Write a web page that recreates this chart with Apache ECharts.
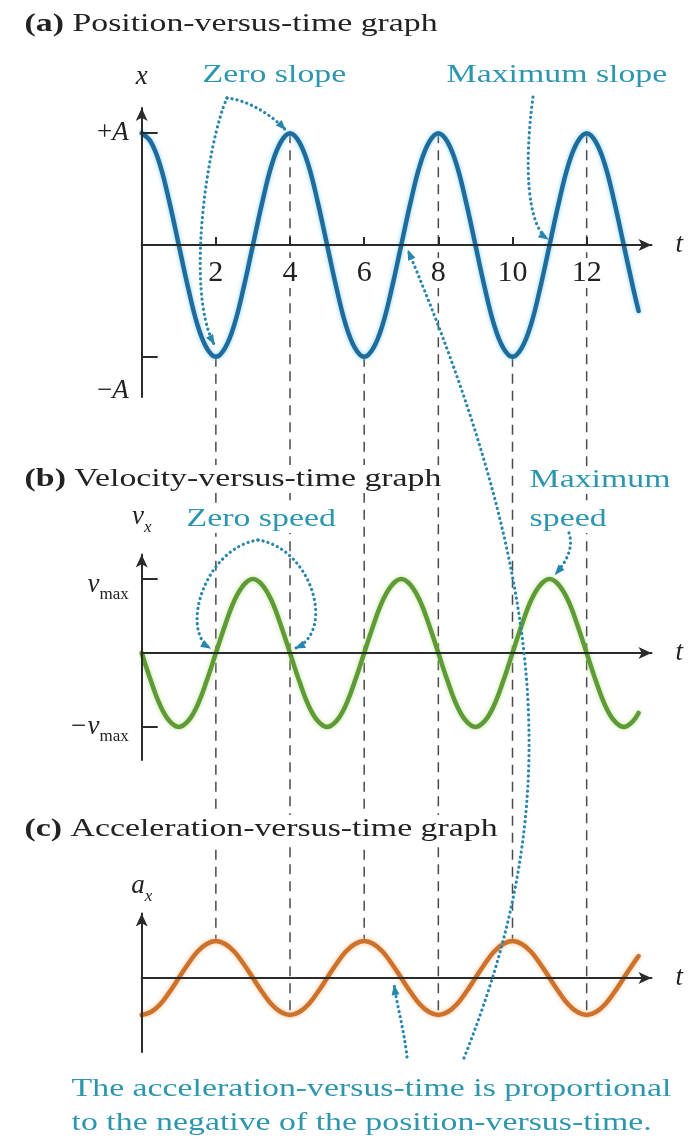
<!DOCTYPE html>
<html>
<head>
<meta charset="utf-8">
<script src="https://cdn.jsdelivr.net/npm/echarts@6/dist/echarts.min.js"></script>
<style>
  html, body { margin: 0; padding: 0; background: #fff; }
  #chart { width: 696px; height: 1139px; }
</style>
</head>
<body>
<div id="chart"></div>
<script>
// Simple harmonic motion sampled every quarter time unit: position, velocity, acceleration
const times = [0, 0.25, 0.5, 0.75, 1, 1.25, 1.5, 1.75, 2, 2.25, 2.5, 2.75, 3, 3.25, 3.5, 3.75,
  4, 4.25, 4.5, 4.75, 5, 5.25, 5.5, 5.75, 6, 6.25, 6.5, 6.75, 7, 7.25, 7.5, 7.75,
  8, 8.25, 8.5, 8.75, 9, 9.25, 9.5, 9.75, 10, 10.25, 10.5, 10.75, 11, 11.25, 11.5, 11.75,
  12, 12.25, 12.5, 12.75, 13, 13.25, 13.4];
const position = [1, 0.92, 0.71, 0.38, 0, -0.38, -0.71, -0.92, -1, -0.92, -0.71, -0.38, 0, 0.38, 0.71, 0.92,
  1, 0.92, 0.71, 0.38, 0, -0.38, -0.71, -0.92, -1, -0.92, -0.71, -0.38, 0, 0.38, 0.71, 0.92,
  1, 0.92, 0.71, 0.38, 0, -0.38, -0.71, -0.92, -1, -0.92, -0.71, -0.38, 0, 0.38, 0.71, 0.92,
  1, 0.92, 0.71, 0.38, 0, -0.38, -0.59];
const velocity = [0, -0.38, -0.71, -0.92, -1, -0.92, -0.71, -0.38, 0, 0.38, 0.71, 0.92, 1, 0.92, 0.71, 0.38,
  0, -0.38, -0.71, -0.92, -1, -0.92, -0.71, -0.38, 0, 0.38, 0.71, 0.92, 1, 0.92, 0.71, 0.38,
  0, -0.38, -0.71, -0.92, -1, -0.92, -0.71, -0.38, 0, 0.38, 0.71, 0.92, 1, 0.92, 0.71, 0.38,
  0, -0.38, -0.71, -0.92, -1, -0.92, -0.81];
const acceleration = [-1, -0.92, -0.71, -0.38, 0, 0.38, 0.71, 0.92, 1, 0.92, 0.71, 0.38, 0, -0.38, -0.71, -0.92,
  -1, -0.92, -0.71, -0.38, 0, 0.38, 0.71, 0.92, 1, 0.92, 0.71, 0.38, 0, -0.38, -0.71, -0.92,
  -1, -0.92, -0.71, -0.38, 0, 0.38, 0.71, 0.92, 1, 0.92, 0.71, 0.38, 0, -0.38, -0.71, -0.92,
  -1, -0.92, -0.71, -0.38, 0, 0.38, 0.59];

// Tick marks and labels
const timeTicks = [2, 4, 6, 8, 10, 12];
const positionTicks = [1, -1];
const positionTickLabels = ['+A', '−A'];
const velocityTicks = [1, -1];
const velocityTickLabels = ['v max', '−v max'];

// Guide lines dropped from the x(t) extremes down to a(t)
const guideTimes = [2, 4, 6, 8, 10, 12];

// ---------- layout ----------
const SERIF = '"Liberation Serif", "Times New Roman", serif';
const INK = '#222';
const AXIS_INK = '#2b2b2b';
const TEAL = '#2d96af';
const DOT = '#2885ad';
const STRETCH = 1.3;

const AXIS_LEFT = 141.7;
const PX_PER_T = 37.08;
const AXIS_END = 651.5;
const T_MAX = (AXIS_END - AXIS_LEFT) / PX_PER_T;

// zero: pixel row of the t axis, unit: pixels per amplitude, top/bottom: ends of the vertical axis line
const panels = [
  { zero: 245, unit: 111.8, top: 108, bottom: 397 },
  { zero: 653, unit: 74, top: 554.5, bottom: 760 },
  { zero: 978, unit: 37, top: 913.5, bottom: 1052 }
];

const chart = echarts.init(document.getElementById('chart'), null, { renderer: 'canvas' });

const grids = panels.map(p => ({
  left: AXIS_LEFT, width: AXIS_END - AXIS_LEFT,
  top: p.top, height: p.bottom - p.top,
  containLabel: false, outerBoundsMode: 'none'
}));

const axisLineStyle = { color: AXIS_INK, width: 2 };
const nameStyle = { fontFamily: SERIF, fontStyle: 'italic', fontSize: 27, color: INK };

// the t axis sits on the zero row of its panel (lifted from the grid's bottom edge)
const xAxes = panels.map((p, i) => ({
  type: 'value', gridIndex: i, min: 0, max: T_MAX, z: 3,
  position: 'bottom', offset: -(p.bottom - p.zero),
  axisLine: { show: true, onZero: false, lineStyle: axisLineStyle, symbol: ['none', 'arrow'], symbolSize: [9, 13] },
  axisTick: i === 0
    ? { show: true, inside: true, length: 8, customValues: timeTicks, lineStyle: axisLineStyle }
    : { show: false },
  axisLabel: i === 0
    ? { show: true, customValues: timeTicks, margin: 13, fontFamily: SERIF, fontSize: 30, color: INK,
        backgroundColor: '#fff', padding: [0, 2] }
    : { show: false },
  splitLine: { show: false },
  name: 't', nameLocation: 'end', nameGap: 24, nameTextStyle: nameStyle
}));

function amplitudeLabel(text) {
  // "+A" / "−A" and "v max" / "−v max" with an italic symbol
  if (text === '+A') return '{n|+}{i|A}';
  if (text === '−A') return '{ln|−}{li|A}';
  if (text === 'v max') return '{v|v}{m|max}';
  return '{lv|−v}{lm|max}';
}

const richAmp = {
  n: { fontFamily: SERIF, fontSize: 27, color: INK },
  i: { fontFamily: SERIF, fontSize: 27, fontStyle: 'italic', color: INK },
  ln: { fontFamily: SERIF, fontSize: 27, color: INK, padding: [68, 0, 0, 0] },
  li: { fontFamily: SERIF, fontSize: 27, fontStyle: 'italic', color: INK, padding: [68, 0, 0, 0] },
  v: { fontFamily: SERIF, fontSize: 27, fontStyle: 'italic', color: INK, padding: [16, 0, 5, 0], verticalAlign: 'bottom' },
  m: { fontFamily: SERIF, fontSize: 17, color: INK, padding: [16, 0, 0, 0], verticalAlign: 'bottom' },
  lv: { fontFamily: SERIF, fontSize: 27, fontStyle: 'italic', color: INK, padding: [4, 0, 5, 0], verticalAlign: 'bottom' },
  lm: { fontFamily: SERIF, fontSize: 17, color: INK, padding: [4, 0, 0, 0], verticalAlign: 'bottom' }
};

const yNames = [
  { name: 'x', gap: 18 },
  { name: '{v|v}{s|x}', gap: 18 },
  { name: '{v|a}{s|x}', gap: 8 }
];
const richName = {
  v: { fontFamily: SERIF, fontStyle: 'italic', fontSize: 27, color: INK, padding: [0, 0, 6, 0], verticalAlign: 'bottom' },
  s: { fontFamily: SERIF, fontStyle: 'italic', fontSize: 17, color: INK, verticalAlign: 'bottom' }
};

const yAxes = panels.map((p, i) => {
  const ticks = i === 0 ? positionTicks : i === 1 ? velocityTicks : [];
  const labels = i === 0 ? positionTickLabels : velocityTickLabels;
  return {
    type: 'value', gridIndex: i, z: 3,
    min: -(p.bottom - p.zero) / p.unit,
    max: (p.zero - p.top) / p.unit,
    axisLine: { show: true, onZero: false, lineStyle: axisLineStyle, symbol: ['none', 'arrow'], symbolSize: [9, 13] },
    axisTick: ticks.length
      ? { show: true, inside: true, length: 16, customValues: ticks, lineStyle: axisLineStyle }
      : { show: false },
    axisLabel: ticks.length
      ? { show: true, customValues: ticks, margin: 13,
          formatter: v => amplitudeLabel(labels[ticks.indexOf(v)]), rich: richAmp }
      : { show: false },
    splitLine: { show: false },
    name: yNames[i].name, nameLocation: 'end', nameGap: yNames[i].gap,
    nameTextStyle: Object.assign({}, nameStyle, { rich: richName })
  };
});

function curve(i, values, color, halo) {
  return {
    type: 'line', xAxisIndex: i, yAxisIndex: i,
    data: times.map((t, k) => [t, values[k]]),
    smooth: 0.4, symbol: 'none', silent: true, clip: false, z: 2,
    lineStyle: { color: color, width: 4.5, shadowBlur: 4, shadowColor: halo, cap: 'round' }
  };
}

chart.setOption({
  animation: false,
  backgroundColor: '#fff',
  grid: grids,
  xAxis: xAxes,
  yAxis: yAxes,
  series: [
    curve(0, position, '#1f6c9c', 'rgba(120,205,240,0.9)'),
    curve(1, velocity, '#5e9b38', 'rgba(185,225,140,0.9)'),
    curve(2, acceleration, '#cc722d', 'rgba(245,185,130,0.9)')
  ]
});

// ---------- overlays placed through the axes ----------
function px(g, t, v) { return chart.convertToPixel({ gridIndex: g }, [t, v]); }
function add(p, d) { return [p[0] + d[0], p[1] + d[1]]; }
function valueAt(arr, t) { return arr[times.indexOf(t)]; }

const elements = [];

// dashed guides from x(t) extremes to a(t) extremes
guideTimes.forEach(t => {
  const a = px(0, t, valueAt(position, t));
  const c = px(2, t, valueAt(acceleration, t));
  elements.push({
    type: 'line', z: 1, silent: true,
    shape: { x1: a[0], y1: a[1], x2: c[0], y2: c[1] },
    style: { stroke: '#4a4a4a', lineWidth: 1.5, lineDash: [10, 7] }
  });
});

// headings and annotation text
const texts = [
  { x: 22, y: 24, text: '{b|(a)} Position-versus-time graph', fill: INK },
  { x: 200, y: 75, text: 'Zero slope', fill: TEAL },
  { x: 444, y: 75, text: 'Maximum slope', fill: TEAL },
  { x: 22, y: 479, text: '{b|(b)} Velocity-versus-time graph', fill: INK },
  { x: 527, y: 480, text: 'Maximum', fill: TEAL },
  { x: 527, y: 519, text: 'speed', fill: TEAL },
  { x: 184, y: 519, text: 'Zero speed', fill: TEAL },
  { x: 22, y: 829, text: '{b|(c)} Acceleration-versus-time graph', fill: INK },
  { x: 69, y: 1089, text: 'The acceleration-versus-time is proportional', fill: TEAL },
  { x: 69, y: 1123, text: 'to the negative of the position-versus-time.', fill: TEAL }
];
texts.forEach(d => {
  elements.push({
    type: 'text', x: d.x, y: d.y, scaleX: STRETCH, z: 5, silent: true,
    style: {
      text: d.text, fill: d.fill, fontFamily: SERIF, fontSize: 26,
      align: 'left', verticalAlign: 'middle',
      backgroundColor: '#fff', padding: [1, 2],
      rich: { b: { fontFamily: SERIF, fontSize: 26, fontWeight: 'bold', fill: d.fill } }
    }
  });
});

// dotted pointer arrows
const pointers = [
  { from: [227, 98], c1: [208, 140], c2: [185, 290], to: add(px(0, 2, -1), [-2, -13]) },
  { from: [227, 98], c1: [246, 100], c2: [268, 112], to: add(px(0, 4, 1), [-5, -4]) },
  { from: [533, 97], c1: [524, 165], c2: [527, 225], to: add(px(0, 11, 0), [-2, -6]) },
  { from: [258, 540], c1: [205, 548], c2: [180, 630], to: add(px(1, 2, 0), [-6, -5]) },
  { from: [258, 540], c1: [311, 548], c2: [336, 630], to: add(px(1, 4, 0), [6, -5]) },
  { from: [569, 533], c1: [574, 548], c2: [566, 562], to: add(px(1, 11, 1), [6, -5]) },
  { from: [464, 1058], c1: [558, 822], c2: [559, 609], to: add(px(0, 7, 0), [7, 6]) },
  { from: [407, 1057], c1: [404, 1030], c2: [397, 1005], to: add(px(2, 7, 0), [-7, 8]) }
];
pointers.forEach(p => {
  elements.push({
    type: 'bezierCurve', z: 6, silent: true,
    shape: { x1: p.from[0], y1: p.from[1], cpx1: p.c1[0], cpy1: p.c1[1],
             cpx2: p.c2[0], cpy2: p.c2[1], x2: p.to[0], y2: p.to[1] },
    style: { stroke: DOT, lineWidth: 3.2, lineDash: [0.1, 5], lineCap: 'round', fill: null }
  });
  const dx = p.to[0] - p.c2[0], dy = p.to[1] - p.c2[1];
  const len = Math.hypot(dx, dy) || 1;
  const ux = dx / len, uy = dy / len;
  const bx = p.to[0] - ux * 9, by = p.to[1] - uy * 9;
  elements.push({
    type: 'polygon', z: 6, silent: true,
    shape: { points: [[p.to[0] + ux * 1.5, p.to[1] + uy * 1.5], [bx - uy * 4, by + ux * 4], [bx + uy * 4, by - ux * 4]] },
    style: { fill: DOT }
  });
});

chart.setOption({ graphic: elements });
</script>
</body>
</html>
